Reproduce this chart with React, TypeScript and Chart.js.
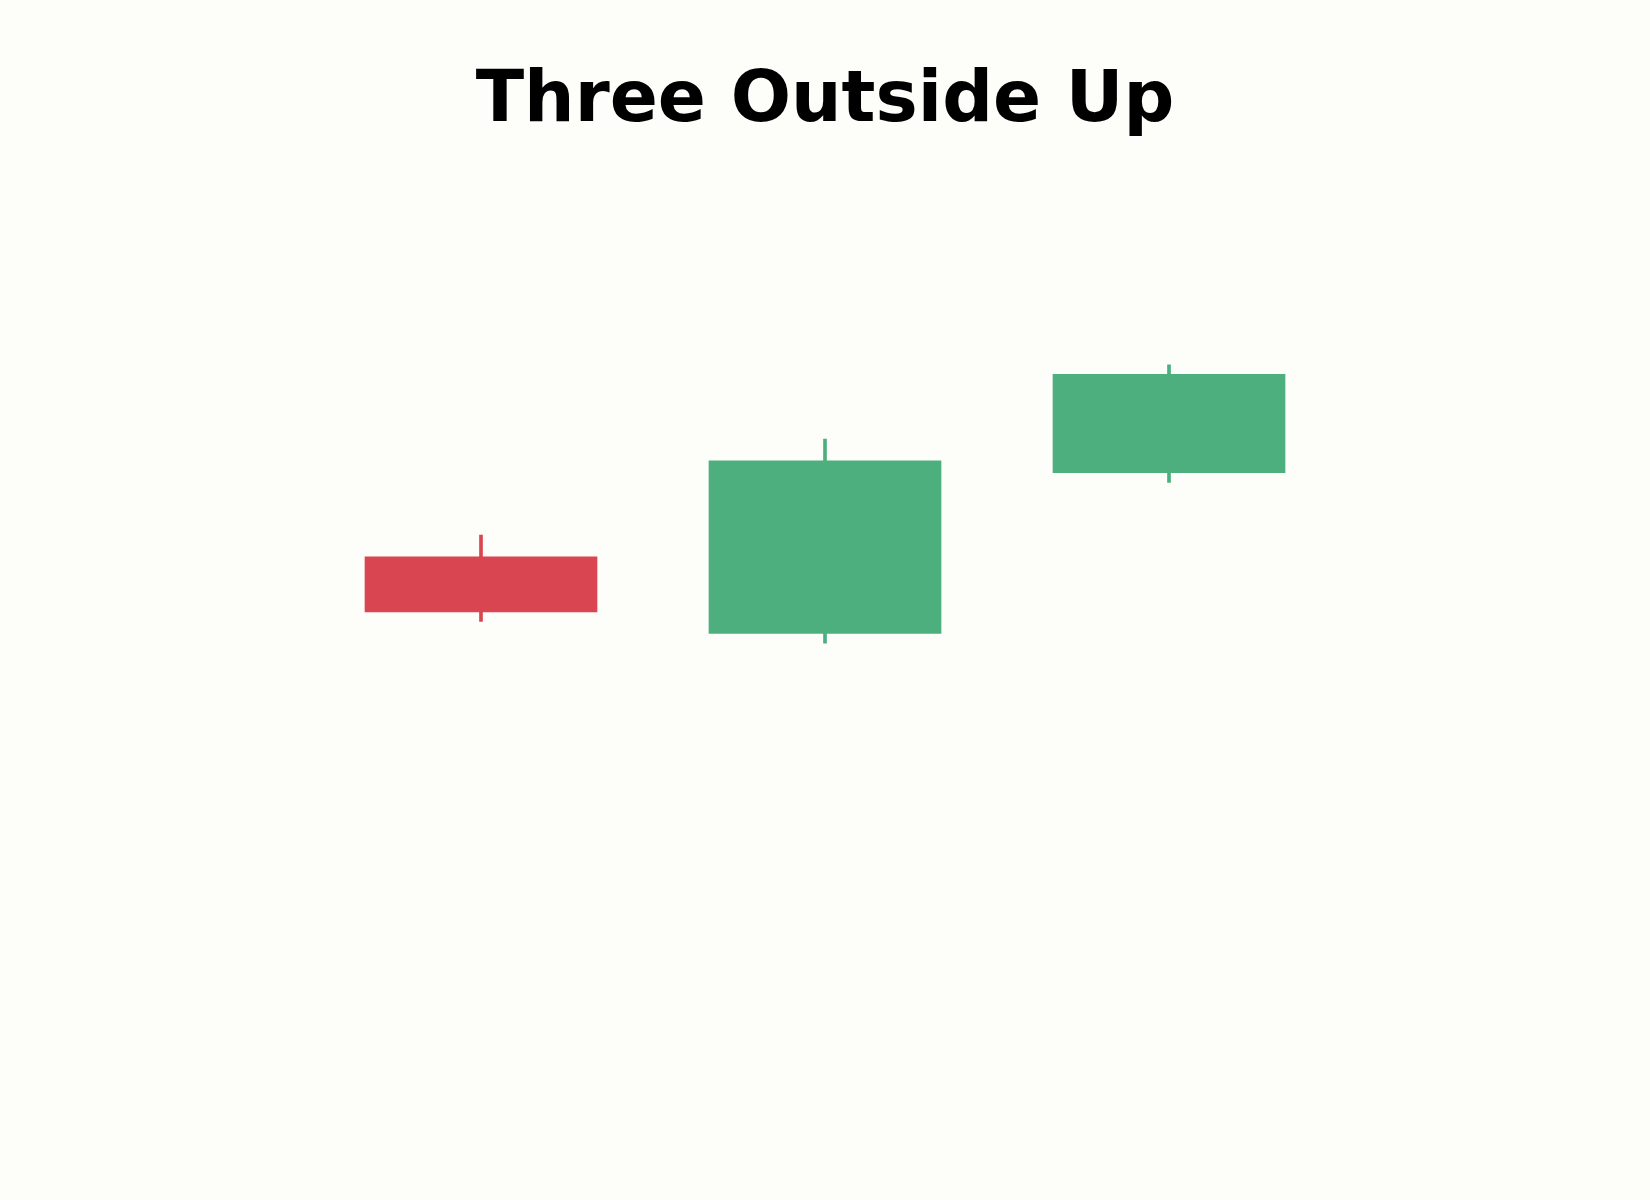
import { useEffect, useRef } from "react"
import { Chart, registerables } from "chart.js"

Chart.register(...registerables)

// candle data (index 0..2)
const positions = [0, 1, 2]
const opens = [104.1, 100.9, 107.6]
const closes = [101.8, 108.1, 111.7]
const highs = [105.0, 109.0, 112.1]
const lows = [101.4, 100.5, 107.2]

const UP = "#4daf7e"
const DOWN = "#d94550"
const BG = "#fdfdf9"

export default function App() {
  const chartRef = useRef<HTMLCanvasElement>(null)
  const chartInstance = useRef<Chart | null>(null)

  useEffect(() => {
    document.body.style.margin = "0"
    document.body.style.background = BG
    if (!chartRef.current) return
    const ctx = chartRef.current.getContext("2d")
    if (!ctx) return

    const colors = positions.map((_, i) => (closes[i] >= opens[i] ? UP : DOWN))

    const config: any = {
      type: "bar",
      data: {
        datasets: [
          {
            label: "wick",
            data: positions.map((x, i) => ({ x, y: [lows[i], highs[i]] })),
            backgroundColor: colors,
            barThickness: 3,
            grouped: false,
            order: 2,
          },
          {
            label: "body",
            data: positions.map((x, i) => ({ x, y: [opens[i], closes[i]] })),
            backgroundColor: colors,
            barThickness: 232,
            grouped: false,
            order: 1,
          },
        ],
      },
      options: {
        responsive: false,
        animation: false,
        layout: { padding: { left: 137, right: 137, bottom: 65, top: 0 } },
        scales: {
          x: { type: "linear", min: -1, max: 3, offset: false, display: false },
          y: { min: 80, max: 120, display: false },
        },
        plugins: {
          legend: { display: false },
          tooltip: { enabled: false },
          title: {
            display: true,
            text: "Three Outside Up",
            color: "#000000",
            font: { family: "DejaVu Sans", size: 71, weight: "bold", lineHeight: 1.2 },
            padding: { top: 60, bottom: 30 },
          },
        },
      },
    }

    chartInstance.current = new Chart(ctx, config)

    return () => {
      if (chartInstance.current) {
        chartInstance.current.destroy()
      }
    }
  }, [])

  return (
    <div style={{ width: 1650, height: 1200, background: BG }}>
      <canvas ref={chartRef} width={1650} height={1200} />
    </div>
  )
}
